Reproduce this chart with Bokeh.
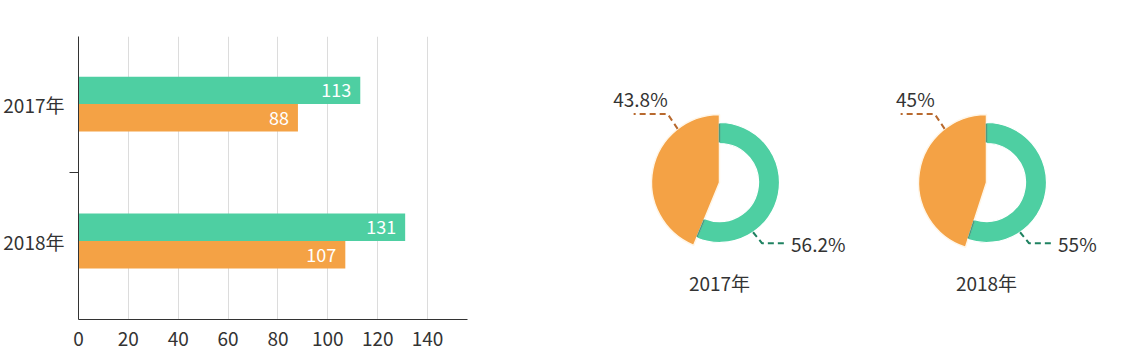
import math
from bokeh.plotting import figure
from bokeh.layouts import row
from bokeh.models import Range1d, FixedTicker, ColumnDataSource
from bokeh.core.properties import value
from bokeh.embed import file_html
from bokeh.resources import INLINE

# ---------------- data ----------------
categories = ["2017年", "2018年"]
series_green = [113, 131]
series_orange = [88, 107]
x_ticks = [0, 20, 40, 60, 80, 100, 120, 140]

pie_titles = ["2017年", "2018年"]
pie_orange_pct = [43.8, 45]
pie_green_pct = [56.2, 55]

# ---------------- styles ----------------
GREEN = "#4ecfa2"
ORANGE = "#f4a245"
GREEN_DARK = "#1f8261"
ORANGE_DARK = "#b8692e"
TXT = "#333333"
FONT = "Noto Sans CJK SC"

H = 354
TOP, BOTTOM = 36, 35

# ---------------- bar chart ----------------
n = len(categories)
pos = [n - 1 - i for i in range(n)]  # first category on top
src = ColumnDataSource(dict(
    cat=categories,
    yg=[p_ + 0.1 for p_ in pos],
    yo=[p_ - 0.1 for p_ in pos],
    g=series_green,
    o=series_orange,
    gl=[str(v) for v in series_green],
    ol=[str(v) for v in series_orange],
))

p = figure(width=478, height=H, output_backend="svg", toolbar_location=None,
           x_range=Range1d(0, 156), y_range=Range1d(-0.573, n - 1 + 0.493),
           min_border_left=69, min_border_right=11, min_border_top=TOP, min_border_bottom=BOTTOM)
p.outline_line_color = None
p.background_fill_color = "white"
p.border_fill_color = "white"

p.hbar(y="yg", right="g", left=0, height=0.2, source=src, fill_color=GREEN, line_color=None)
p.hbar(y="yo", right="o", left=0, height=0.2, source=src, fill_color=ORANGE, line_color=None)

p.text(x="g", y="yg", text="gl", source=src, x_offset=-9, text_align="right",
       text_baseline="middle", text_color="white", text_font=value(FONT), text_font_size="18px")
p.text(x="o", y="yo", text="ol", source=src, x_offset=-9, text_align="right",
       text_baseline="middle", text_color="white", text_font=value(FONT), text_font_size="18px")

p.ygrid.visible = False
p.xgrid.ticker = FixedTicker(ticks=x_ticks[1:])
p.xgrid.grid_line_color = "#dcdcdc"

p.xaxis.ticker = FixedTicker(ticks=x_ticks)
p.xaxis.axis_line_color = TXT
p.xaxis.major_tick_line_color = None
p.xaxis.minor_tick_line_color = None
p.xaxis.major_label_text_font = FONT
p.xaxis.major_label_text_font_size = "19px"
p.xaxis.major_label_text_color = TXT
p.xaxis.major_label_standoff = 6

p.yaxis.ticker = FixedTicker(ticks=pos, minor_ticks=[k + 0.5 for k in range(n - 1)])
p.yaxis.major_label_overrides = {pos[i]: categories[i] for i in range(n)}
p.yaxis.axis_line_color = TXT
p.yaxis.major_tick_line_color = None
p.yaxis.minor_tick_line_color = TXT
p.yaxis.minor_tick_in = 0
p.yaxis.minor_tick_out = 9
p.yaxis.major_label_text_font = FONT
p.yaxis.major_label_text_font_size = "19px"
p.yaxis.major_label_text_color = TXT
p.yaxis.major_label_standoff = 5

# ---------------- pies ----------------
PW = 638
q = figure(width=PW, height=H, output_backend="svg", toolbar_location=None,
           x_range=Range1d(0, PW), y_range=Range1d(BOTTOM, H - TOP),
           min_border_left=0, min_border_right=0, min_border_top=TOP, min_border_bottom=BOTTOM)
q.axis.visible = False
q.grid.visible = False
q.outline_line_color = None
q.background_fill_color = "white"
q.border_fill_color = "white"

cx = [241, 508]          # pie centres (layout)
cy = 172
R_OR = 68
R_IN, R_OUT = 39, 60
rad = math.radians

o_start = [rad(90)] * len(pie_titles)
o_end = [rad(90 + v * 3.6) for v in pie_orange_pct]
g_end = [rad(450)] * len(pie_titles)

ps = ColumnDataSource(dict(x=cx, y=[cy] * len(cx), os=o_start, oe=o_end, ge=g_end))
q.wedge(x="x", y="y", radius=R_OR, start_angle="os", end_angle="oe", source=ps,
        fill_color=ORANGE, line_color="#fff6e8", line_width=1.5)
q.annular_wedge(x="x", y="y", inner_radius=R_IN, outer_radius=R_OUT, start_angle="oe",
                end_angle="ge", source=ps, fill_color=GREEN, line_color="white", line_width=1.2)

# dark edges on the green ring cuts
ex, ey = [], []
for i in range(len(cx)):
    for a in (o_end[i], g_end[i]):
        ex.append([cx[i] + (R_IN + 1) * math.cos(a), cx[i] + (R_OUT - 1) * math.cos(a)])
        ey.append([cy + (R_IN + 1) * math.sin(a), cy + (R_OUT - 1) * math.sin(a)])
q.multi_line(xs=ex, ys=ey, line_color=GREEN_DARK, line_width=1.5, line_alpha=0.8)

# leader lines and labels
A_OR, A_GR = rad(128), rad(304)
oxs, oys, gxs, gys = [], [], [], []
olx, oly, glx, gly = [], [], [], []
for i in range(len(cx)):
    ax_ = cx[i] + R_OR * math.cos(A_OR); ay_ = cy + R_OR * math.sin(A_OR)
    ex_ = ax_ - 10; ey_ = ay_ + 15
    oxs.append([ax_, ex_, ex_ - 34]); oys.append([ay_, ey_, ey_])
    olx.append(ex_); oly.append(ey_ + 15)
    bx_ = cx[i] + R_OUT * math.cos(A_GR); by_ = cy + R_OUT * math.sin(A_GR)
    fx_ = bx_ + 9; fy_ = by_ - 11
    gxs.append([bx_, fx_, fx_ + 25]); gys.append([by_, fy_, fy_])
    glx.append(fx_ + 25 + 4); gly.append(fy_)

q.multi_line(xs=oxs, ys=oys, line_color=ORANGE_DARK, line_width=2, line_dash="6 4")
q.multi_line(xs=gxs, ys=gys, line_color=GREEN_DARK, line_width=2, line_dash="6 4")

fmt = lambda v: "{:g}%".format(v)
q.text(x=olx, y=oly, text=[fmt(v) for v in pie_orange_pct], text_align="right",
       text_baseline="middle", text_color=TXT, text_font=value(FONT), text_font_size="19px")
q.text(x=glx, y=gly, text=[fmt(v) for v in pie_green_pct], text_align="left",
       text_baseline="middle", text_color=TXT, text_font=value(FONT), text_font_size="19px")
q.text(x=cx, y=[cy - 100] * len(cx), text=pie_titles, text_align="center",
       text_baseline="middle", text_color=TXT, text_font=value(FONT), text_font_size="19px")

layout = row(p, q)
open("out.html", "w").write(file_html(layout, INLINE))
